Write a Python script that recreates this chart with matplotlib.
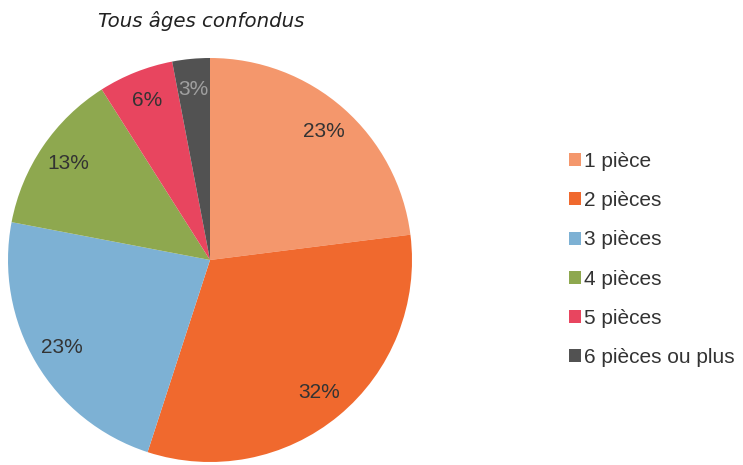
import matplotlib.pyplot as plt
from matplotlib.patches import Patch

categories = ['1 pièce', '2 pièces', '3 pièces', '4 pièces', '5 pièces', '6 pièces ou plus']
values = [23, 32, 23, 13, 6, 3]
colors = ['#F4976C', '#F0692E', '#7DB1D4', '#8EA84F', '#E8455F', '#525252']

fig = plt.figure(figsize=(7.43, 4.65), dpi=100)
ax = fig.add_axes([8 / 743, 3 / 465, 404 / 743, 404 / 465])

wedges, texts, autotexts = ax.pie(values, colors=colors, startangle=90, counterclock=False,
                                  autopct='%d%%', pctdistance=0.85, radius=1,
                                  textprops={'fontsize': 15, 'family': 'Liberation Sans', 'color': '#333333'})
autotexts[-1].set_color('#A0A0A0')
ax.set_xlim(-1, 1)
ax.set_ylim(-1, 1)
ax.set_aspect('equal')

fig.text(201 / 743, 1 - 21 / 465, 'Tous âges confondus', ha='center', va='center',
         fontsize=14.2, style='italic', family='DejaVu Sans', color='#222222')

handles = [Patch(facecolor=c, edgecolor='none') for c in colors]
fig.legend(handles, categories, loc='upper left', bbox_to_anchor=(569 / 743, 1 - 152 / 465),
           frameon=False, prop={'family': 'Liberation Sans', 'size': 15},
           handlelength=0.58, handleheight=0.58, handletextpad=0.15, labelspacing=0.97,
           borderpad=0, borderaxespad=0, labelcolor='#333333')

fig.savefig('out.png', dpi=100)
